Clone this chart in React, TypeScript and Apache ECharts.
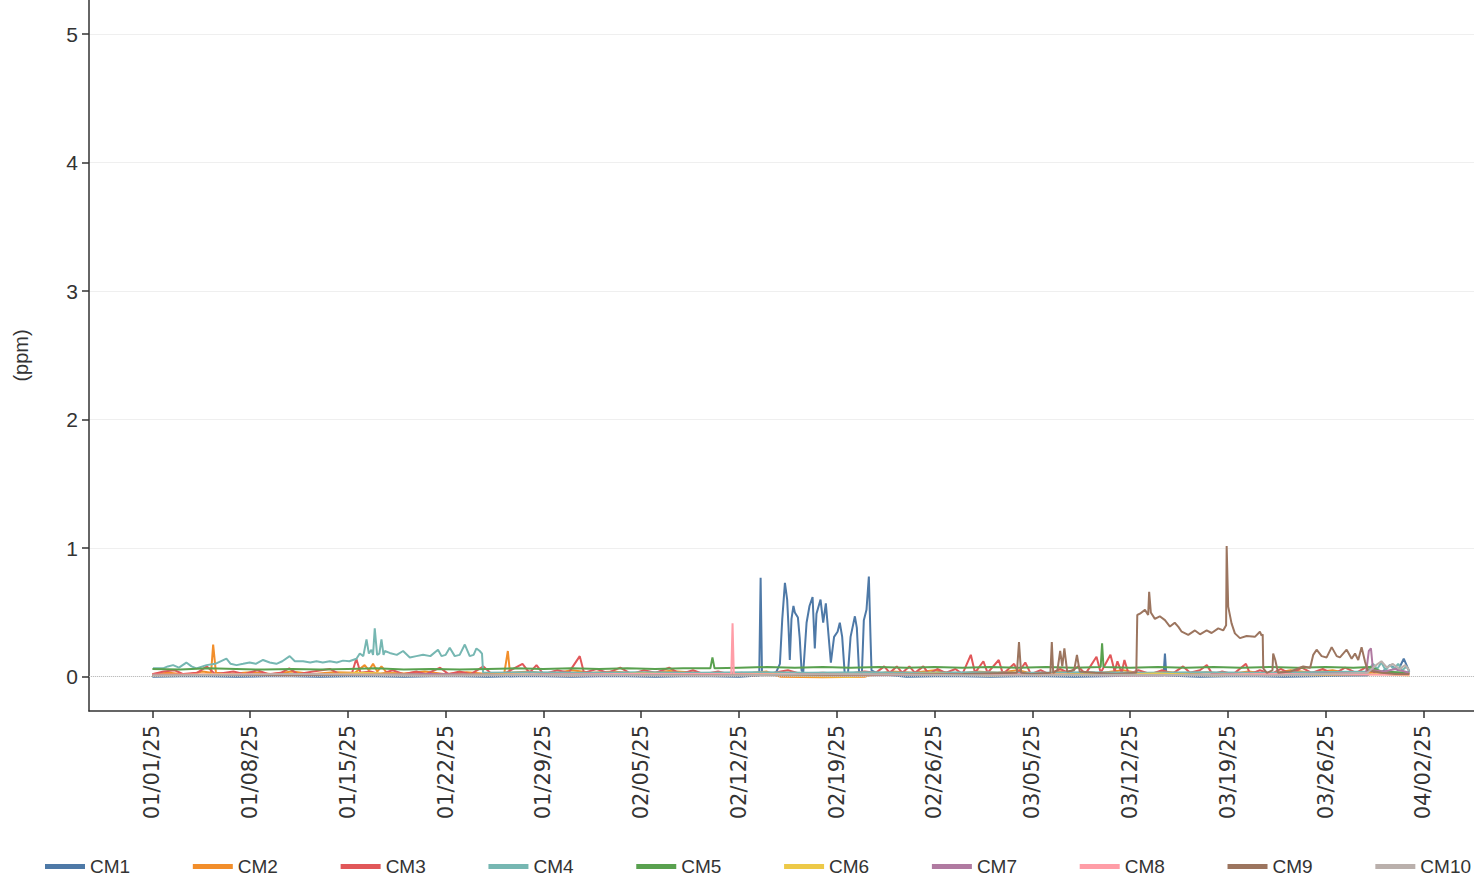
import React, { useEffect, useRef } from "react";
import * as echarts from "echarts";

// Series readings: [day since 01/01/25 00:00, ppm]
const cm1: number[][] = [
  [0, 0.0], [3, 0.005], [6, 0.0], [9, 0.005], [12, 0.0], [15, 0.005], [18, 0.0], [21, 0.005],
  [24, 0.0], [27, 0.005], [30, 0.0], [33, 0.005], [36, 0.0], [39, 0.005], [42, 0.0],
  [43.45, 0.01], [43.55, 0.77], [43.65, 0.01], [44.2, 0.03], [44.6, 0.02],
  [44.93, 0.1], [45.1, 0.45], [45.29, 0.73], [45.45, 0.6], [45.55, 0.38], [45.64, 0.13],
  [45.76, 0.45], [45.9, 0.55], [46.0, 0.5], [46.22, 0.46], [46.35, 0.3], [46.48, 0.05],
  [46.6, 0.03], [46.84, 0.42], [47.05, 0.55], [47.27, 0.62], [47.43, 0.22], [47.55, 0.49],
  [47.84, 0.6], [48.03, 0.42], [48.22, 0.57], [48.36, 0.39], [48.58, 0.11], [48.81, 0.31],
  [49.06, 0.35], [49.22, 0.42], [49.39, 0.31], [49.58, 0.01], [49.8, 0.02], [49.99, 0.31],
  [50.3, 0.47], [50.44, 0.38], [50.61, 0.01], [50.8, 0.02], [50.94, 0.44], [51.13, 0.52],
  [51.3, 0.78], [51.42, 0.3], [51.49, 0.05], [52, 0.02], [54, 0.0], [57, 0.005], [60, 0.0],
  [63, 0.005], [66, 0.0], [69, 0.005], [72.4, 0.01], [72.5, 0.18], [72.6, 0.01], [75, 0.0],
  [78, 0.005], [81, 0.0], [84, 0.005], [87, 0.01], [87.5, 0.06], [88, 0.03], [88.6, 0.09],
  [89.2, 0.05], [89.6, 0.14], [90, 0.04],
];

const cm2: number[][] = [
  [0, 0.02], [1.2, 0.03], [2.5, 0.015], [3.6, 0.04], [4.2, 0.03], [4.35, 0.25], [4.55, 0.03],
  [5.5, 0.02], [7, 0.035], [8.5, 0.02], [10, 0.04], [11.5, 0.02], [13, 0.035], [14.5, 0.03],
  [15.2, 0.09], [15.5, 0.05], [15.8, 0.1], [16.1, 0.04], [16.4, 0.08], [16.8, 0.03],
  [18, 0.025], [19.5, 0.04], [21, 0.02], [22.5, 0.035], [24, 0.02], [25.2, 0.03],
  [25.45, 0.2], [25.6, 0.03], [27, 0.04], [28.5, 0.02], [30, 0.05], [31.5, 0.03], [33, 0.04],
  [35, 0.02], [37, 0.045], [39, 0.03], [41, 0.02], [43, 0.03], [44, 0.04], [44.5, 0.015],
  [45, 0.0], [48, -0.005], [51, 0.0], [51.6, 0.02], [53, 0.04], [54.5, 0.03], [56, 0.05],
  [57.5, 0.02], [59, 0.04], [60.5, 0.03], [62, 0.05], [63.5, 0.01], [65, 0.04], [66.5, 0.02],
  [68, 0.03], [69.5, 0.05], [71, 0.02], [72.5, 0.04], [74, 0.02], [75.5, 0.035], [77, 0.02],
  [78.5, 0.04], [80, 0.02], [81.5, 0.05], [83, 0.03], [84.5, 0.05], [86, 0.02], [87.5, 0.04],
  [89, 0.02], [90, 0.03],
];

const cm3: number[][] = [
  [0, 0.02], [0.8, 0.04], [1.6, 0.05], [2.2, 0.02], [3.2, 0.03], [3.9, 0.08], [4.5, 0.02],
  [5.8, 0.04], [6.6, 0.02], [7.5, 0.05], [8.3, 0.02], [9.2, 0.03], [9.8, 0.065], [10.4, 0.02],
  [11.5, 0.04], [12.7, 0.06], [13.4, 0.02], [14.3, 0.03], [14.6, 0.14], [14.9, 0.03],
  [15.6, 0.04], [16.3, 0.02], [17.2, 0.05], [18.0, 0.02], [18.9, 0.04], [19.6, 0.02],
  [20.6, 0.07], [21.2, 0.02], [22.0, 0.04], [22.8, 0.02], [23.7, 0.08], [24.3, 0.02],
  [25.3, 0.03], [26.5, 0.1], [27.0, 0.03], [27.5, 0.09], [28.0, 0.02], [29.0, 0.05],
  [29.8, 0.03], [30.6, 0.16], [30.9, 0.03], [31.8, 0.06], [32.6, 0.03], [33.5, 0.07],
  [34.3, 0.02], [35.2, 0.05], [36.0, 0.03], [37.0, 0.07], [37.8, 0.02], [38.7, 0.05],
  [39.5, 0.02], [40.5, 0.04], [41.3, 0.02], [42.2, 0.03], [43, 0.01], [44.5, 0.03],
  [45.5, 0.05], [46.5, 0.02], [48, 0.03], [49.5, 0.02], [51, 0.04], [51.8, 0.03],
  [52.4, 0.08], [52.8, 0.03], [53.3, 0.08], [53.7, 0.03], [54.2, 0.08], [54.6, 0.03],
  [55.2, 0.08], [55.6, 0.02], [56.2, 0.06], [56.8, 0.03], [57.5, 0.06], [58.0, 0.02],
  [58.6, 0.17], [58.9, 0.03], [59.5, 0.12], [59.8, 0.03], [60.6, 0.13], [60.9, 0.02],
  [61.7, 0.1], [62.0, 0.03], [62.5, 0.11], [62.9, 0.02], [63.6, 0.05], [64.2, 0.02],
  [65.0, 0.06], [65.6, 0.03], [66.3, 0.08], [66.8, 0.02], [67.6, 0.155], [67.9, 0.03],
  [68.6, 0.17], [68.9, 0.04], [69.1, 0.12], [69.4, 0.03], [69.6, 0.13], [69.9, 0.02],
  [70.6, 0.05], [71.5, 0.02], [72.3, 0.05], [73, 0.02], [73.8, 0.08], [74.3, 0.03],
  [75.0, 0.05], [75.5, 0.09], [75.9, 0.02], [76.6, 0.04], [77.4, 0.02], [78.3, 0.1],
  [78.6, 0.02], [79.3, 0.05], [80.1, 0.02], [80.8, 0.06], [81.5, 0.02], [82.3, 0.07],
  [83.0, 0.03], [83.8, 0.06], [84.6, 0.02], [85.4, 0.07], [86.2, 0.03], [87.0, 0.08],
  [87.6, 0.02], [88.5, 0.03], [89.5, 0.02], [90, 0.02],
];

const cm4: number[][] = [
  [0.04, 0.065], [0.76, 0.065], [1.1, 0.08], [1.48, 0.09], [1.9, 0.07], [2.43, 0.11],
  [2.8, 0.08], [3.15, 0.065], [3.87, 0.09], [4.5, 0.1], [5.3, 0.14], [5.6, 0.1], [6.02, 0.09],
  [6.5, 0.1], [6.96, 0.11], [7.4, 0.1], [7.92, 0.13], [8.4, 0.11], [8.88, 0.1], [9.3, 0.12],
  [9.83, 0.16], [10.2, 0.12], [10.79, 0.12], [11.3, 0.11], [11.75, 0.12], [12.2, 0.11],
  [12.7, 0.12], [13.2, 0.11], [13.65, 0.125], [14.1, 0.12], [14.61, 0.14], [14.85, 0.18],
  [15.1, 0.16], [15.33, 0.29], [15.5, 0.18], [15.68, 0.21], [15.8, 0.17], [15.92, 0.377],
  [16.09, 0.17], [16.25, 0.18], [16.4, 0.29], [16.55, 0.17], [16.64, 0.2], [16.99, 0.185],
  [17.5, 0.17], [17.95, 0.2], [18.43, 0.15], [18.9, 0.16], [19.38, 0.17], [19.9, 0.16],
  [20.45, 0.21], [20.7, 0.16], [21.0, 0.17], [21.29, 0.225], [21.65, 0.16], [22.0, 0.17],
  [22.37, 0.25], [22.72, 0.16], [23.0, 0.17], [23.2, 0.22], [23.44, 0.2], [23.6, 0.18],
  [23.68, 0.03], [27, 0.035], [31, 0.03], [35, 0.035], [39, 0.03], [43, 0.035], [47, 0.03],
  [51, 0.035], [55, 0.03], [59, 0.035], [63, 0.03], [67, 0.035], [71, 0.03], [75, 0.035],
  [79, 0.03], [83, 0.035], [87, 0.04], [87.4, 0.1], [87.7, 0.06], [88.0, 0.11], [88.3, 0.05],
  [88.6, 0.09], [88.9, 0.06], [89.2, 0.1], [89.5, 0.05], [89.8, 0.08], [90, 0.04],
];

const cm5: number[][] = [
  [0, 0.06], [2, 0.055], [4, 0.065], [6, 0.06], [8, 0.055], [10, 0.06], [12, 0.055],
  [14, 0.06], [16, 0.065], [18, 0.055], [20, 0.06], [22, 0.055], [24, 0.06], [26, 0.065],
  [28, 0.06], [30, 0.065], [32, 0.06], [34, 0.065], [36, 0.06], [38, 0.065], [39.95, 0.065],
  [40.1, 0.15], [40.25, 0.065], [42, 0.07], [44, 0.075], [46, 0.07], [48, 0.075], [50, 0.07],
  [52, 0.075], [54, 0.07], [56, 0.075], [58, 0.07], [60, 0.075], [62, 0.07], [64, 0.075],
  [66, 0.07], [67.9, 0.075], [68.0, 0.26], [68.1, 0.075], [70, 0.07], [72, 0.075], [74, 0.07],
  [76, 0.075], [78, 0.07], [80, 0.075], [82, 0.07], [84, 0.075], [86, 0.07], [87.2, 0.075],
  [88, 0.04], [90, 0.03],
];

const cm6: number[][] = [
  [0, 0.01], [5, 0.02], [10, 0.01], [15, 0.03], [20, 0.015], [25, 0.02], [30, 0.01],
  [35, 0.025], [40, 0.015], [44.5, 0.02], [46, 0.005], [50, 0.0], [52, 0.015], [56, 0.025],
  [60, 0.01], [64, 0.02], [68, 0.015], [72, 0.025], [76, 0.01], [80, 0.02], [84, 0.015],
  [88, 0.02], [90, 0.01],
];

const cm7: number[][] = [
  [0, 0.015], [10, 0.01], [20, 0.02], [30, 0.01], [40, 0.015], [50, 0.01], [60, 0.02],
  [70, 0.01], [80, 0.015], [86.9, 0.03], [87.1, 0.2], [87.25, 0.22], [87.4, 0.05],
  [88.2, 0.04], [89, 0.06], [90, 0.03],
];

const cm8: number[][] = [
  [0, 0.015], [10, 0.02], [20, 0.01], [30, 0.02], [41.45, 0.02], [41.54, 0.415],
  [41.63, 0.02], [50, 0.015], [60, 0.02], [70, 0.01], [80, 0.02], [90, 0.015],
];

const cm9: number[][] = [
  [0, 0.01], [10, 0.015], [20, 0.01], [30, 0.015], [40, 0.01], [50, 0.015], [58, 0.02],
  [61.9, 0.03], [62.05, 0.27], [62.2, 0.03], [63, 0.02], [64.3, 0.03], [64.4, 0.27],
  [64.5, 0.03], [64.8, 0.05], [65.0, 0.2], [65.15, 0.08], [65.3, 0.22], [65.5, 0.04],
  [66.0, 0.05], [66.2, 0.17], [66.4, 0.04], [67.5, 0.03], [69, 0.02], [70.45, 0.03],
  [70.52, 0.48], [70.71, 0.49], [71.07, 0.52], [71.3, 0.48], [71.37, 0.66], [71.49, 0.5],
  [71.78, 0.45], [72.13, 0.47], [72.5, 0.44], [72.86, 0.39], [73.2, 0.42], [73.45, 0.39],
  [73.7, 0.35], [74.17, 0.325], [74.65, 0.36], [75.01, 0.33], [75.49, 0.36], [75.84, 0.34],
  [76.32, 0.376], [76.67, 0.36], [76.88, 0.4], [76.92, 1.017], [77.03, 0.545], [77.27, 0.415],
  [77.51, 0.337], [77.87, 0.3], [78.35, 0.317], [78.94, 0.31], [79.3, 0.35], [79.42, 0.32],
  [79.5, 0.33], [79.54, 0.065], [79.8, 0.03], [80.2, 0.05], [80.25, 0.18], [80.4, 0.13],
  [80.6, 0.03], [81.5, 0.04], [82.4, 0.08], [82.9, 0.07], [83.12, 0.17], [83.36, 0.21],
  [83.72, 0.16], [84.08, 0.15], [84.44, 0.23], [84.8, 0.16], [85.03, 0.15], [85.51, 0.21],
  [85.87, 0.14], [86.11, 0.18], [86.34, 0.13], [86.58, 0.23], [86.82, 0.12], [87.0, 0.05],
  [88, 0.03], [89, 0.02], [90, 0.02],
];

const cm10: number[][] = [
  [0, 0.01], [10, 0.02], [20, 0.01], [30, 0.015], [40, 0.01], [50, 0.02], [60, 0.01],
  [70, 0.015], [80, 0.01], [87, 0.03], [87.5, 0.08], [88, 0.12], [88.4, 0.07], [88.8, 0.1],
  [89.3, 0.06], [89.7, 0.09], [90, 0.05],
];

const seriesNames = ["CM1", "CM2", "CM3", "CM4", "CM5", "CM6", "CM7", "CM8", "CM9", "CM10"];
const seriesValues = [cm1, cm2, cm3, cm4, cm5, cm6, cm7, cm8, cm9, cm10];
const seriesColors = [
  "#4e79a7", "#f28e2b", "#e15759", "#76b7b2", "#59a14f",
  "#edc948", "#b07aa1", "#ff9da7", "#9c755f", "#bab0ac",
];

const xTickLabels = [
  "01/01/25", "01/08/25", "01/15/25", "01/22/25", "01/29/25", "02/05/25", "02/12/25",
  "02/19/25", "02/26/25", "03/05/25", "03/12/25", "03/19/25", "03/26/25", "04/02/25",
];
const yTickValues = [0, 1, 2, 3, 4, 5];

const DAY_MS = 86400000;
const START = Date.UTC(2025, 0, 1);
const dayToTs = (d: number) => START + d * DAY_MS;
const labelToTs = (s: string) => {
  const [mm, dd, yy] = s.split("/").map(Number);
  return Date.UTC(2000 + yy, mm - 1, dd);
};
const xTickTs = xTickLabels.map(labelToTs);

export default function App() {
  const ref = useRef<HTMLDivElement>(null);

  useEffect(() => {
    if (!ref.current) return;
    const chart = echarts.init(ref.current, undefined, { renderer: "svg" });
    const font = "'Liberation Sans', Arial, sans-serif";

    const series: any[] = seriesNames.map((name, i) => ({
      name,
      type: "line",
      data: seriesValues[i].map(([d, v]) => [dayToTs(d), v]),
      showSymbol: false,
      symbol: "none",
      lineStyle: { width: 2, color: seriesColors[i] },
      itemStyle: { color: seriesColors[i] },
      ...(i === 0
        ? {
            markLine: {
              silent: true,
              symbol: "none",
              label: { show: false },
              lineStyle: { type: "dotted", color: "#bdbdbd", width: 1 },
              data: [{ yAxis: 0 }],
            },
          }
        : {}),
    }));

    chart.setOption({
      animation: false,
      backgroundColor: "#ffffff",
      grid: { left: 89, top: 0, right: 0, bottom: 171, containLabel: false },
      legend: {
        data: seriesNames,
        left: 45,
        top: 857,
        width: 1429,
        padding: 0,
        icon: "rect",
        itemWidth: 40,
        itemHeight: 5,
        itemGap: 62.7,
        textStyle: { fontFamily: font, fontSize: 19, color: "#333" },
      },
      xAxis: {
        type: "value",
        min: dayToTs(-4.54),
        max: dayToTs(94.63),
        axisLine: { show: true, onZero: false, lineStyle: { color: "#333", width: 1.5 } },
        axisTick: {
          show: true,
          length: 7,
          lineStyle: { color: "#333", width: 1.5 },
          customValues: xTickTs,
        },
        axisLabel: {
          customValues: xTickTs,
          rotate: 90,
          margin: 14,
          fontFamily: "'DejaVu Sans', sans-serif",
          fontSize: 21,
          color: "#333",
          formatter: (v: number) => {
            const idx = xTickTs.indexOf(v);
            return idx >= 0 ? xTickLabels[idx] : "";
          },
        },
        splitLine: { show: false },
      },
      yAxis: {
        type: "value",
        min: -0.267,
        max: 5.266,
        name: "(ppm)",
        nameLocation: "middle",
        nameGap: 58,
        nameTextStyle: { fontFamily: font, fontSize: 20, color: "#333" },
        axisLine: { show: true, onZero: false, lineStyle: { color: "#333", width: 1.5 } },
        axisTick: {
          show: true,
          length: 7,
          lineStyle: { color: "#333", width: 1.5 },
          customValues: yTickValues,
        },
        axisLabel: {
          customValues: yTickValues,
          margin: 11,
          fontFamily: font,
          fontSize: 21,
          color: "#333",
          formatter: (v: number) => String(v),
        },
        splitLine: { show: true, lineStyle: { color: "#efefef", width: 1 } },
      },
      series,
    });

    return () => chart.dispose();
  }, []);

  return (
    <div
      ref={ref}
      style={{ position: "absolute", left: 0, top: 0, width: 1474, height: 882 }}
    />
  );
}
